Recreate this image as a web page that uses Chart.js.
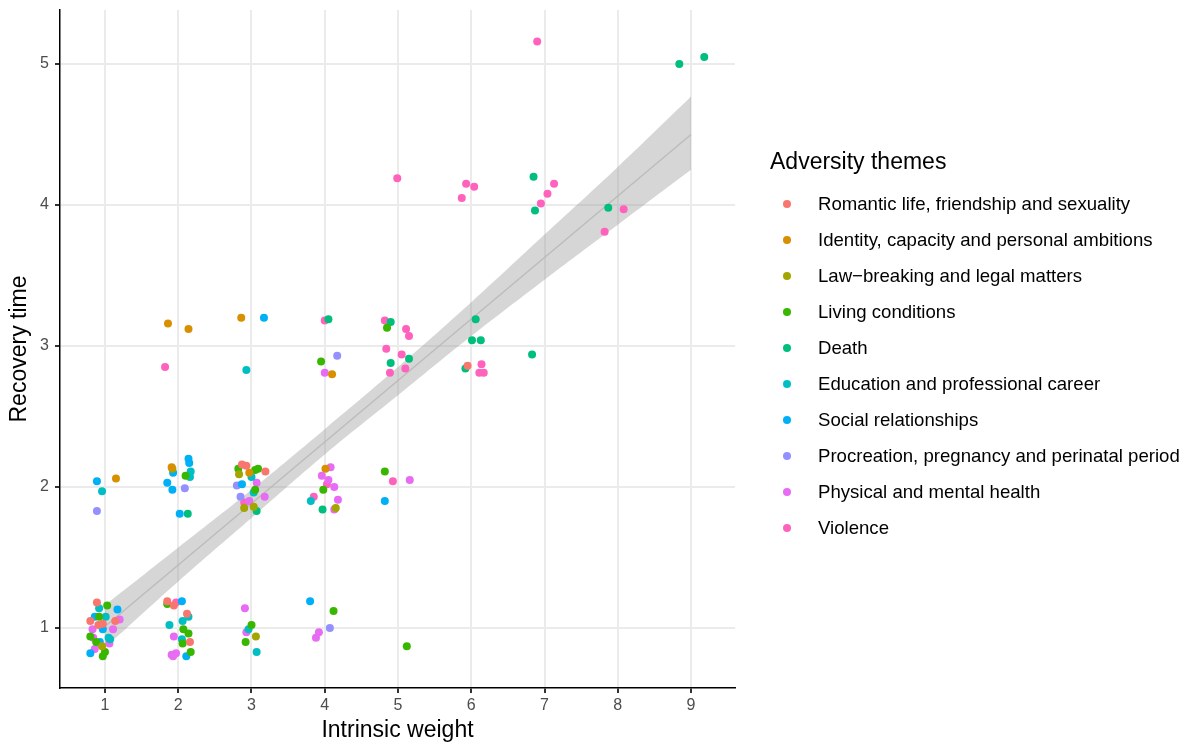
<!DOCTYPE html>
<html>
<head>
<meta charset="utf-8">
<script src="https://cdn.jsdelivr.net/npm/chart.js@4/dist/chart.umd.min.js"></script>
<style>
  body { margin: 0; background: #fff; font-family: "Liberation Sans", Arial, Helvetica, sans-serif; }
  #wrap { position: relative; width: 1196px; height: 745px; }
  #legend { position: absolute; left: 770px; top: 145px; color: #000; }
  #legend .title { font-size: 23px; line-height: 32px; margin-bottom: 9px; }
  #legend .item { display: flex; align-items: center; height: 36px; font-size: 18.6px; }
  #legend .dot { width: 8px; height: 8px; border-radius: 50%; margin-left: 13px; margin-right: 27px; }
</style>
</head>
<body>
<div id="wrap">
  <canvas id="chart" width="1196" height="745"></canvas>
  <div id="legend"></div>
</div>
<script>
// categories and colours (ggplot hue palette)
const themes = [
  "Romantic life, friendship and sexuality",
  "Identity, capacity and personal ambitions",
  "Law\u2212breaking and legal matters",
  "Living conditions",
  "Death",
  "Education and professional career",
  "Social relationships",
  "Procreation, pregnancy and perinatal period",
  "Physical and mental health",
  "Violence",
];
const themeColors = ["#F8766D", "#D89000", "#A3A500", "#39B600", "#00BF7D",
  "#00BFC4", "#00B0F6", "#9590FF", "#E76BF3", "#FF62BC"];

// points: [intrinsic weight (jittered), recovery time (jittered)]
const romantic = [[0.89, 1.18], [0.80, 1.05], [1.14, 1.05], [0.97, 1.03], [0.91, 1.02],
  [1.85, 1.19], [1.94, 1.16], [2.12, 1.10], [2.16, 0.90], [2.87, 2.16], [2.93, 2.15],
  [3.19, 2.11], [5.95, 2.86]];
const identity = [[1.15, 2.06], [1.91, 2.14], [1.86, 3.16], [2.14, 3.12], [2.86, 3.20],
  [2.97, 2.10], [4.01, 2.13], [4.10, 2.80]];
const lawBreaking = [[0.96, 0.87], [1.92, 2.13], [2.83, 2.09], [2.90, 1.85], [3.03, 1.86],
  [3.06, 0.94], [4.15, 1.85]];
const living = [[1.03, 1.16], [0.92, 1.08], [0.80, 0.94], [0.88, 0.90], [1.00, 0.83],
  [0.97, 0.80], [1.85, 1.17], [2.07, 0.99], [2.14, 0.96], [2.06, 0.89], [2.17, 0.83],
  [2.10, 2.08], [2.82, 2.13], [3.05, 2.12], [3.09, 2.13], [3.05, 1.98], [3.00, 1.02],
  [2.92, 0.90], [4.12, 1.12], [5.12, 0.87], [3.98, 1.98], [3.95, 2.89], [4.85, 3.13],
  [4.82, 2.11]];
const death = [[2.13, 1.81], [3.07, 1.83], [3.97, 1.84], [4.05, 3.19], [4.90, 3.17],
  [4.90, 2.88], [5.15, 2.91], [5.92, 2.84], [6.06, 3.19], [6.01, 3.04], [6.13, 3.04],
  [6.83, 2.94], [6.85, 4.20], [6.87, 3.96], [7.87, 3.98], [8.84, 5.00], [9.18, 5.05]];
const education = [[0.92, 1.14], [1.01, 1.08], [1.05, 0.93], [1.07, 0.92], [0.96, 1.97],
  [2.14, 1.08], [1.88, 1.02], [2.06, 1.05], [2.05, 0.92], [2.17, 2.11], [2.16, 2.07],
  [3.00, 2.07], [3.03, 1.96], [2.96, 0.99], [3.07, 0.83], [2.93, 2.83], [3.81, 1.90]];
const social = [[1.17, 1.13], [0.86, 1.08], [0.97, 0.99], [0.93, 0.90], [0.80, 0.82],
  [0.89, 2.04], [2.05, 1.19], [2.11, 0.80], [2.14, 2.20], [2.15, 2.17], [1.93, 2.10],
  [1.85, 2.03], [1.92, 1.98], [2.02, 1.81], [2.87, 2.02], [3.17, 3.20], [3.80, 1.19],
  [4.82, 1.90]];
const procreation = [[0.89, 1.83], [2.09, 1.99], [2.80, 2.01], [2.85, 1.93], [4.07, 1.00],
  [4.17, 2.93]];
const physical = [[1.20, 1.06], [0.83, 0.99], [1.11, 0.99], [0.84, 0.93], [1.06, 0.89],
  [0.86, 0.85], [1.94, 0.94], [1.91, 0.81], [1.97, 0.82], [1.93, 0.80], [2.91, 1.14],
  [2.93, 0.97], [3.92, 0.97], [3.88, 0.93], [3.07, 2.03], [3.18, 1.93], [2.97, 1.90],
  [4.08, 2.14], [3.96, 2.08], [4.05, 2.05], [4.13, 2.00], [4.18, 1.91], [4.13, 1.84],
  [4.00, 2.81], [5.16, 2.05]];
const violence = [[1.97, 1.18], [1.82, 2.85], [2.90, 1.89], [4.03, 2.02], [3.85, 1.93],
  [4.00, 3.18], [4.82, 3.18], [5.11, 3.12], [5.15, 3.07], [4.84, 2.98], [5.05, 2.94],
  [5.10, 2.84], [4.89, 2.81], [4.93, 2.04], [4.99, 4.19], [6.14, 2.87], [6.11, 2.81],
  [6.17, 2.81], [5.93, 4.15], [6.04, 4.13], [5.87, 4.05], [7.13, 4.15], [7.04, 4.08],
  [6.95, 4.01], [6.90, 5.16], [8.08, 3.97], [7.82, 3.81]];

const pointSets = [romantic, identity, lawBreaking, living, death,
  education, social, procreation, physical, violence];

// linear fit and its confidence band
const fitX = [1, 9];
const fitY = [1.01, 4.50];
const bandX = [1, 2, 3, 4, 5, 6, 7, 8, 9];
const bandUpper = [1.16, 1.57, 1.98, 2.41, 2.85, 3.31, 3.79, 4.27, 4.77];
const bandLower = [0.86, 1.33, 1.78, 2.23, 2.65, 3.07, 3.47, 3.86, 4.25];

const xTicks = [1, 2, 3, 4, 5, 6, 7, 8, 9];
const yTicks = [1, 2, 3, 4, 5];

Chart.defaults.font.family = '"Liberation Sans", Arial, Helvetica, sans-serif';

const toXY = (xs, ys) => xs.map((x, i) => ({ x: x, y: ys[i] }));

const datasets = pointSets.map((pts, i) => ({
  type: "scatter",
  label: themes[i],
  data: pts.map(p => ({ x: p[0], y: p[1] })),
  backgroundColor: themeColors[i],
  borderWidth: 0,
  pointRadius: 4,
  order: 1,
}));

datasets.push({
  type: "line",
  label: "upper",
  data: toXY(bandX, bandUpper),
  borderWidth: 0,
  pointRadius: 0,
  fill: "+1",
  backgroundColor: "rgba(153,153,153,0.4)",
  tension: 0.4,
  order: 3,
});
datasets.push({
  type: "line",
  label: "lower",
  data: toXY(bandX, bandLower),
  borderWidth: 0,
  pointRadius: 0,
  fill: false,
  tension: 0.4,
  order: 3,
});
datasets.push({
  type: "line",
  label: "fit",
  data: toXY(fitX, fitY),
  borderColor: "rgba(185,185,185,0.9)",
  borderWidth: 1.5,
  pointRadius: 0,
  fill: false,
  order: 2,
});

const ctx = document.getElementById("chart").getContext("2d");
new Chart(ctx, {
  type: "scatter",
  data: { datasets: datasets },
  options: {
    responsive: false,
    animation: false,
    layout: { padding: { left: 0, top: 10, right: 461, bottom: 0 } },
    plugins: { legend: { display: false }, tooltip: { enabled: false } },
    scales: {
      x: {
        type: "linear",
        min: 0.386,
        max: 9.6,
        afterBuildTicks: s => { s.ticks = xTicks.map(v => ({ value: v })); },
        afterFit: s => { s.height = 57; s.paddingLeft = 0; s.paddingRight = 0; },
        ticks: { color: "#4D4D4D", font: { size: 16 }, padding: 3 },
        grid: { color: "#EBEBEB", lineWidth: 2, tickColor: "#333", tickLength: 5 },
        border: { display: true, color: "#000", width: 1.5 },
        title: { display: true, text: "Intrinsic weight", color: "#000", font: { size: 23 }, padding: { bottom: 1 } },
      },
      y: {
        type: "linear",
        min: 0.574,
        max: 5.383,
        afterBuildTicks: s => { s.ticks = yTicks.map(v => ({ value: v })); },
        afterFit: s => { s.width = 60; s.paddingTop = 0; s.paddingBottom = 0; },
        ticks: { color: "#4D4D4D", font: { size: 16 }, padding: 6 },
        grid: { color: "#EBEBEB", lineWidth: 2, tickColor: "#333", tickLength: 5 },
        border: { display: true, color: "#000", width: 1.5 },
        title: { display: true, text: "Recovery time", color: "#000", font: { size: 23 }, padding: { top: 6 } },
      },
    },
  },
});

// legend
const legend = document.getElementById("legend");
let html = '<div class="title">Adversity themes</div>';
themes.forEach((t, i) => {
  html += '<div class="item"><span class="dot" style="background:' + themeColors[i] + '"></span>' + t + '</div>';
});
legend.innerHTML = html;
</script>
</body>
</html>
